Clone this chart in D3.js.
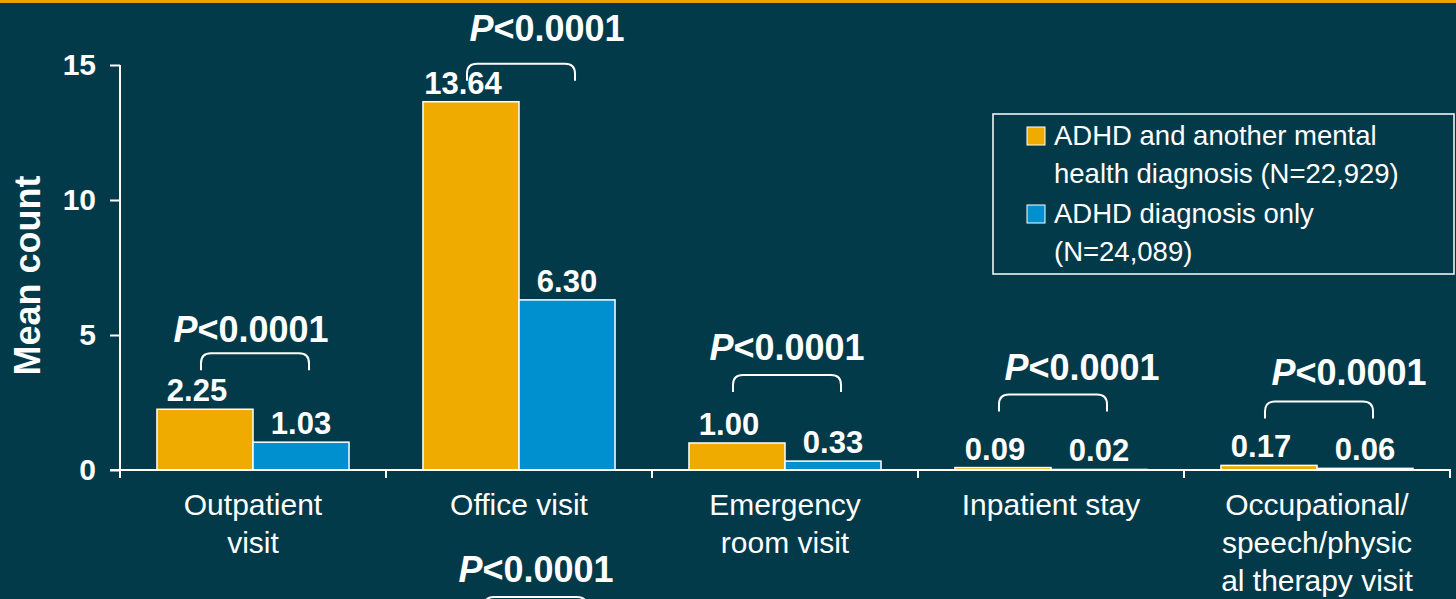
<!DOCTYPE html>
<html>
<head>
<meta charset="utf-8">
<script src="https://cdn.jsdelivr.net/npm/d3@7"></script>
<style>
  html, body { margin: 0; padding: 0; background: #033a4a; }
  svg { display: block; font-family: Arial, "Liberation Sans", sans-serif; }
</style>
</head>
<body>
<div id="vis"></div>
<script>
const WIDTH = 1456;
const HEIGHT = 599;

// data
const categories = ["Outpatient visit", "Office visit", "Emergency room visit", "Inpatient stay", "Occupational/speech/physical therapy visit"];
const categoryLines = [
  ["Outpatient", "visit"],
  ["Office visit"],
  ["Emergency", "room visit"],
  ["Inpatient stay"],
  ["Occupational/", "speech/physic", "al therapy visit"],
];
const seriesNames = ["ADHD and another mental health diagnosis (N=22,929)", "ADHD diagnosis only (N=24,089)"];
const legendLines = [
  ["ADHD and another mental", "health diagnosis (N=22,929)"],
  ["ADHD diagnosis only", "(N=24,089)"],
];
const mentalHealth = [2.25, 13.64, 1.0, 0.09, 0.17];
const adhdOnly = [1.03, 6.3, 0.33, 0.02, 0.06];
const pValues = ["0.0001", "0.0001", "0.0001", "0.0001", "0.0001"];
const yTicks = [0, 5, 10, 15];

// layout of the p-value brackets (pixels above the taller bar, text shift)
const pLayout = [
  { lift: 39, dx: -4, gap: 11 },
  { lift: 21, dx: 26, gap: 23 },
  { lift: 51, dx: 0, gap: 15 },
  { lift: 56, dx: 29, gap: 15 },
  { lift: 47, dx: 30, gap: 16 },
];

const COLORS = ["#f0ab00", "#0090d0"];
const BG = "#033a4a";

const svg = d3.select("#vis").append("svg")
  .attr("width", WIDTH)
  .attr("height", HEIGHT);

svg.append("rect").attr("width", WIDTH).attr("height", HEIGHT).attr("fill", BG);
svg.append("rect").attr("width", WIDTH).attr("height", 3).attr("fill", "#e8a300");

// scales
const y = d3.scaleLinear().domain([0, 15]).range([470, 65]);
const x0 = d3.scaleBand().domain(categories).range([120, 1450]).padding(0);
const x1 = d3.scaleBand().domain(seriesNames).range([0, x0.bandwidth()]).paddingInner(0).paddingOuter(0.385);

const rows = categories.map((c, i) => ({ cat: c, i: i, vals: [mentalHealth[i], adhdOnly[i]] }));

// y axis
const yAxis = svg.append("g")
  .attr("transform", "translate(120,0)")
  .call(d3.axisLeft(y).tickValues(yTicks).tickSize(10).tickPadding(14).tickFormat(d3.format("d")));
yAxis.select(".domain").attr("stroke", "#fff").attr("stroke-width", 2).attr("d", `M0,${y(15)}V${y(0)}`);
yAxis.selectAll(".tick line").attr("stroke", "#fff").attr("stroke-width", 2);
yAxis.selectAll(".tick text")
  .attr("fill", "#fff")
  .attr("font-size", 30)
  .attr("font-weight", "bold")
  .attr("font-family", "Arial, 'Liberation Sans', sans-serif");

svg.append("text")
  .attr("transform", `translate(40,${y(7.2)}) rotate(-90)`)
  .attr("text-anchor", "middle")
  .attr("fill", "#fff")
  .attr("font-size", 36)
  .attr("font-weight", "bold")
  .text("Mean count");

// bars
const groups = svg.selectAll(".cat")
  .data(rows)
  .enter()
  .append("g")
  .attr("class", "cat")
  .attr("transform", (d) => `translate(${x0(d.cat)},0)`);

groups.selectAll("rect")
  .data((d) => d.vals.map((v, k) => ({ v: v, k: k })))
  .enter()
  .append("rect")
  .attr("x", (d) => x1(seriesNames[d.k]))
  .attr("y", (d) => y(d.v))
  .attr("width", x1.bandwidth())
  .attr("height", (d) => y(0) - y(d.v))
  .attr("fill", (d) => COLORS[d.k])
  .attr("stroke", "#fff")
  .attr("stroke-width", 1.5);

groups.selectAll(".val")
  .data((d) => d.vals.map((v, k) => ({ v: v, k: k })))
  .enter()
  .append("text")
  .attr("class", "val")
  .attr("x", (d) => x1(seriesNames[d.k]) + x1.bandwidth() / 2 - (d.k === 0 ? 8 : 0))
  .attr("y", (d) => y(d.v) - 8)
  .attr("text-anchor", "middle")
  .attr("fill", "#fff")
  .attr("font-size", 31)
  .attr("font-weight", "bold")
  .text((d) => d.v.toFixed(2));

// x axis
const bounds = d3.range(categories.length + 1).map((i) => x0.range()[0] + i * x0.step());
svg.append("line")
  .attr("x1", 110).attr("x2", bounds[bounds.length - 1] + 1)
  .attr("y1", y(0)).attr("y2", y(0))
  .attr("stroke", "#fff").attr("stroke-width", 2);
svg.selectAll(".xtick")
  .data(bounds)
  .enter()
  .append("line")
  .attr("x1", (d) => d).attr("x2", (d) => d)
  .attr("y1", y(0)).attr("y2", y(0) + 8)
  .attr("stroke", "#fff").attr("stroke-width", 2);

svg.selectAll(".xlabel")
  .data(rows)
  .enter()
  .append("text")
  .attr("class", "xlabel")
  .attr("text-anchor", "middle")
  .attr("fill", "#fff")
  .attr("font-size", 30)
  .each(function (d) {
    const t = d3.select(this);
    categoryLines[d.i].forEach((line, j) => {
      t.append("tspan")
        .attr("x", x0(d.cat) + x0.bandwidth() / 2)
        .attr("y", 515 + j * 38)
        .text(line);
    });
  });

// p-value brackets
function bracket(g, xa, xb, top, h) {
  const r = 10;
  g.append("path")
    .attr("d", `M${xa},${top + h}V${top + r}Q${xa},${top} ${xa + r},${top}H${xb - r}Q${xb},${top} ${xb},${top + r}V${top + h}`)
    .attr("fill", "none")
    .attr("stroke", "#fff")
    .attr("stroke-width", 2);
}

function pLabel(g, cx, baseline, p) {
  const t = g.append("text")
    .attr("x", cx)
    .attr("y", baseline)
    .attr("text-anchor", "middle")
    .attr("fill", "#fff")
    .attr("font-size", 36)
    .attr("font-weight", "bold");
  t.append("tspan").attr("font-style", "italic").text("P");
  t.append("tspan").text("<" + p);
}

const ann = svg.append("g");
rows.forEach((d) => {
  const lay = pLayout[d.i];
  const xa = x0(d.cat) + x1(seriesNames[0]) + x1.bandwidth() / 2 - 4;
  const xb = x0(d.cat) + x1(seriesNames[1]) + x1.bandwidth() / 2 + 8;
  const bottom = y(d3.max(d.vals)) - lay.lift;
  const top = bottom - 17;
  bracket(ann, xa, xb, top, 17);
  pLabel(ann, (xa + xb) / 2 + lay.dx, top - lay.gap, pValues[d.i]);
});

// start of the next panel, cut off by the bottom edge
const next = svg.append("g");
pLabel(next, x0(categories[1]) + x0.bandwidth() / 2 + 17, 582, pValues[1]);
bracket(next, 484, 587, 597, 17);

// legend
const legend = svg.append("g");
legend.append("rect")
  .attr("x", 993).attr("y", 114)
  .attr("width", 461).attr("height", 160)
  .attr("fill", "none")
  .attr("stroke", "#fff")
  .attr("stroke-width", 1.5);
legendLines.forEach((lines, k) => {
  const top = 127 + k * 78;
  legend.append("rect")
    .attr("x", 1027).attr("y", top)
    .attr("width", 18).attr("height", 18)
    .attr("fill", COLORS[k])
    .attr("stroke", "#fff")
    .attr("stroke-width", 1);
  lines.forEach((line, j) => {
    legend.append("text")
      .attr("x", 1054)
      .attr("y", top + 18 + j * 38)
      .attr("fill", "#fff")
      .attr("font-size", 27.5)
      .text(line);
  });
});
</script>
</body>
</html>
